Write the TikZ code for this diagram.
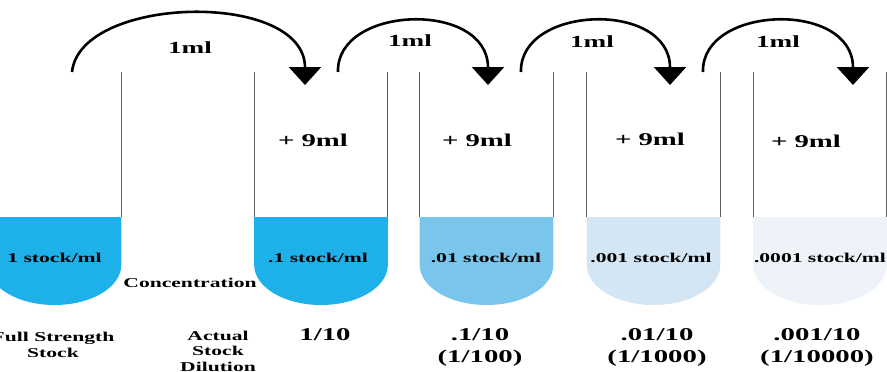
\documentclass[tikz,border=0pt]{standalone}
\usepackage{fontspec}
\setmainfont{Liberation Serif}[FakeStretch=1.6]
\usetikzlibrary{arrows.meta}
\definecolor{liqA}{RGB}{30,176,232}
\definecolor{liqB}{RGB}{122,197,236}
\definecolor{liqC}{RGB}{212,230,243}
\definecolor{liqD}{RGB}{237,243,248}
\definecolor{wallgray}{RGB}{95,95,95}
\begin{document}
\begin{tikzpicture}[x=1pt,y=-1pt,
  wall/.style={draw=wallgray,line width=1.3pt},
  transfer/.style={line width=2.6pt,-{Triangle[width=32pt,length=18pt]}},
  lbl/.style={font=\bfseries,inner sep=0pt,align=center},
  big/.style={lbl,font=\bfseries\fontsize{18}{22}\selectfont},
  mid/.style={lbl,font=\bfseries\fontsize{17}{20}\selectfont},
  small/.style={lbl,font=\bfseries\fontsize{13.5}{15.5}\selectfont}]
\useasboundingbox (0,0) rectangle (887,372);
\clip (0,0) rectangle (887,372);

% tubes: centre x, liquid colour, name
\foreach \c/\col/\n in {54.5/liqA/t0, 321/liqA/t1, 486.5/liqB/t2, 653.5/liqC/t3, 820/liqD/t4}{
  \pgfmathsetmacro{\L}{\c-66.8}
  \pgfmathsetmacro{\R}{\c+66.8}
  \fill[\col] (\L,217) -- (\L,265)
     .. controls (\L,287) and (\c-37,305) .. (\c,305)
     .. controls (\c+37,305) and (\R,287) .. (\R,265)
     -- (\R,217) -- cycle;
  \draw[wall] (\L,72) -- (\L,217);
  \draw[wall] (\R,72) -- (\R,217);
  \coordinate (\n) at (\c,217);
}

% contents of each tube
\node[small] (c0) at (54.5,258) {1 stock/ml};
\node[small] (c1) at (318,258) {.1 stock/ml};
\node[small] (c2) at (486,258) {.01 stock/ml};
\node[small] (c3) at (651,258) {.001 stock/ml};
\node[small] (c4) at (820,258) {.0001 stock/ml};

% diluent added
\node[big] (d1) at (313,140) {+ 9ml};
\node[big] (d2) at (477,140) {+ 9ml};
\node[big] (d3) at (650,139) {+ 9ml};
\node[big] (d4) at (806,141) {+ 9ml};

% transfers of 1ml from tube to tube
\coordinate (s1) at (72,72);   \coordinate (e1) at (305,85);
\coordinate (s2) at (338,72);  \coordinate (e2) at (488,85);
\coordinate (s3) at (521,72);  \coordinate (e3) at (670,85);
\coordinate (s4) at (703,72);  \coordinate (e4) at (853,85);
\draw[transfer] (s1) .. controls (80,-5) and (305,-10) .. (e1);
\draw[transfer] (s2) .. controls (336,5) and (488,0) .. (e2);
\draw[transfer] (s3) .. controls (519,5) and (670,0) .. (e3);
\draw[transfer] (s4) .. controls (701,5) and (853,0) .. (e4);
\node[mid] (m1) at (190,48) {1ml};
\node[mid] (m2) at (410,41) {1ml};
\node[mid] (m3) at (592,42) {1ml};
\node[mid] (m4) at (778,42) {1ml};

% row captions
\node[small] (conc) at (190,283) {Concentration};
\node[small] (full) at (53,345) {Full Strength\\Stock};
\node[small] (act) at (218,351) {Actual\\Stock\\Dilution};

% dilution factors
\node[big] (f1) at (325,335) {1/10};
\node[big] (f2) at (480,347) {.1/10\\(1/100)};
\node[big] (f3) at (657,347) {.01/10\\(1/1000)};
\node[big] (f4) at (817,347) {.001/10\\(1/10000)};
\end{tikzpicture}
\end{document}
